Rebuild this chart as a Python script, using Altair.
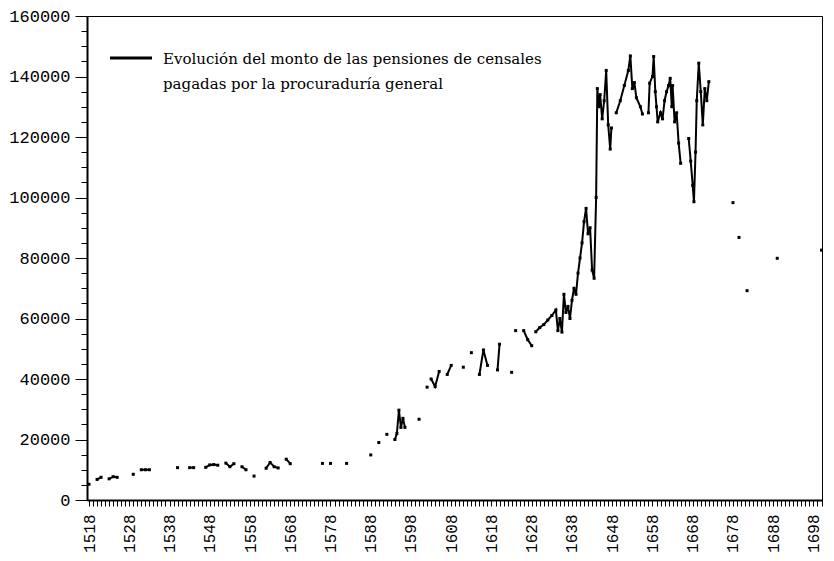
import altair as alt
import pandas as pd

# None marks a break in the series (gap between runs of consecutive records)
years = [
    1518, None,
    1520, 1521, None,
    1523, 1524, 1525, None,
    1529, None,
    1531, 1532, 1533, None,
    1540, None,
    1543, 1544, None,
    1547, 1548, 1549, 1550, None,
    1552, 1553, 1554, None,
    1556, 1557, None,
    1559, None,
    1562, 1563, 1564, 1565, None,
    1567, 1568, None,
    1576, None,
    1578, None,
    1582, None,
    1588, None,
    1590, None,
    1592, None,
    1594, 1594.5, 1595, 1595.5, 1596, 1596.5, None,
    1600, None,
    1602, None,
    1603, 1604, 1605, None,
    1607, 1608, None,
    1611, None,
    1613, None,
    1615, 1616, 1617, None,
    1619.5, 1620, None,
    1623, None,
    1624, None,
    1626, 1627, 1628, None,
    1629, 1630, 1631, 1632, 1633, 1634, 1634.5, 1635, 1635.5, 1636, 1636.5,
    1637, 1637.5, 1638, 1638.5, 1639, 1639.5, 1640, 1640.5, 1641, 1641.5,
    1642, 1642.5, 1643, 1643.5, 1644, 1644.3, 1644.7, 1645, 1645.5, 1646,
    1646.5, 1647, 1647.5, 1647.8, None,
    1649, 1650, 1651, 1652, 1652.5, 1653, 1653.5, 1654, 1655, 1655.5, None,
    1657, 1657.3, 1658, 1658.3, 1658.7, 1659, 1659.3, 1660, 1660.5, 1661,
    1661.5, 1662, 1662.4, 1662.8, 1663, 1663.5, 1664, 1664.5, 1665, None,
    1667, 1667.5, 1668, 1668.3, 1668.7, 1669, 1669.5, 1670, 1670.5, 1671,
    1671.5, 1672, None,
    1678, None,
    1679.5, None,
    1681.5, None,
    1689, None,
    1700,
]

values = [
    5200, None,
    6800, 7500, None,
    7000, 7700, 7500, None,
    8500, None,
    10000, 10000, 10000, None,
    10700, None,
    10700, 10700, None,
    10800, 11600, 11700, 11500, None,
    12200, 11000, 12000, None,
    11000, 10000, None,
    7900, None,
    10500, 12400, 11000, 10600, None,
    13500, 12000, None,
    12100, None,
    12100, None,
    12100, None,
    14900, None,
    19000, None,
    21700, None,
    20000, 22000, 29700, 24000, 27000, 24000, None,
    26700, None,
    37300, None,
    40000, 37500, 42500, None,
    41500, 44500, None,
    43900, None,
    48700, None,
    41500, 49600, 44500, None,
    43000, 51500, None,
    42200, None,
    56000, None,
    56000, 53000, 51000, None,
    55600, 57000, 58000, 59500, 61000, 62800, 56000, 60000, 55500, 68000, 62000,
    64000, 60000, 66000, 70000, 68000, 75000, 80000, 85000, 92000, 96400,
    88000, 90000, 76000, 73300, 100000, 136000, 130000, 134000, 126000, 132000,
    142000, 124000, 116000, 123000, None,
    128000, 132000, 137000, 142000, 146800, 136000, 138000, 133000, 130000, 127600, None,
    128000, 137800, 140000, 146600, 135000, 130000, 125000, 128000, 126000, 132000,
    135000, 137000, 139400, 130000, 137000, 125000, 128000, 118000, 111300, None,
    119500, 112000, 104000, 98600, 115000, 132000, 144400, 135000, 124000, 136000,
    132000, 138300, None,
    98300, None,
    86800, None,
    69200, None,
    79900, None,
    82600,
]

legend_lines = [
    "Evolución del monto de las pensiones de censales",
    "pagadas por la procuraduría general",
]

x_ticks = list(range(1518, 1701))
y_ticks = list(range(0, 160001, 5000))

rows = []
seg = 0
for yr, v in zip(years, values):
    if yr is None:
        seg += 1
        continue
    rows.append({"year": yr, "value": v, "seg": seg})
df = pd.DataFrame(rows)

xscale = alt.Scale(domain=[1517.5, 1700.12], nice=False, zero=False)
yscale = alt.Scale(domain=[0, 160000], nice=False)

x_axis = alt.Axis(
    values=x_ticks,
    format="d",
    labelExpr="(datum.value - 1518) % 10 === 0 ? datum.label : ''",
    labelAngle=270,
    labelFont="Liberation Mono",
    labelFontSize=16,
    labelColor="black",
    labelPadding=8,
    labelOverlap=False,
    labelFlush=False,
    tickColor="black",
    tickSize=6,
    tickWidth=1,
    domainColor="black",
    domainWidth=2,
    grid=False,
    title=None,
)

y_axis = alt.Axis(
    values=y_ticks,
    format="d",
    orient="left",
    labelExpr="datum.value % 20000 === 0 ? datum.label : ''",
    labelFont="Liberation Mono",
    labelFontSize=17,
    labelColor="black",
    labelPadding=5,
    labelOverlap=False,
    labelFlush=False,
    tickColor="black",
    tickSize={"condition": {"test": "datum.value % 20000 === 0", "value": 12}, "value": 6},
    tickWidth=1,
    domainColor="black",
    domainWidth=2,
    grid=False,
    title=None,
)

base = alt.Chart(df)

line = base.mark_line(color="black", strokeWidth=2).encode(
    x=alt.X("year:Q", scale=xscale, axis=x_axis),
    y=alt.Y("value:Q", scale=yscale, axis=y_axis),
    detail="seg:N",
    order="year:Q",
)

pts = base.mark_square(color="black", size=9, opacity=1).encode(
    x=alt.X("year:Q", scale=xscale, axis=x_axis),
    y=alt.Y("value:Q", scale=yscale, axis=y_axis),
)

one = alt.Data(values=[{"k": 0}])

legend_rule = alt.Chart(one).mark_rule(color="black", strokeWidth=3).encode(
    x=alt.value(23), x2=alt.value(65), y=alt.value(42)
)

legend_text = alt.Chart(one).mark_text(
    text=legend_lines,
    align="left",
    baseline="alphabetic",
    font="DejaVu Serif",
    fontSize=15,
    lineHeight=25,
    color="black",
).encode(x=alt.value(76), y=alt.value(48))

chart = (
    alt.layer(line, pts, legend_rule, legend_text)
    .properties(
        width=735,
        height=484,
        autosize=alt.AutoSizeParams(type="none"),
        padding={"left": 79, "top": 8, "right": 4, "bottom": 53},
        background="white",
    )
    .configure_view(stroke="black", strokeWidth=1)
)

chart.save("out.html", embed_options={"renderer": "svg", "actions": False})
